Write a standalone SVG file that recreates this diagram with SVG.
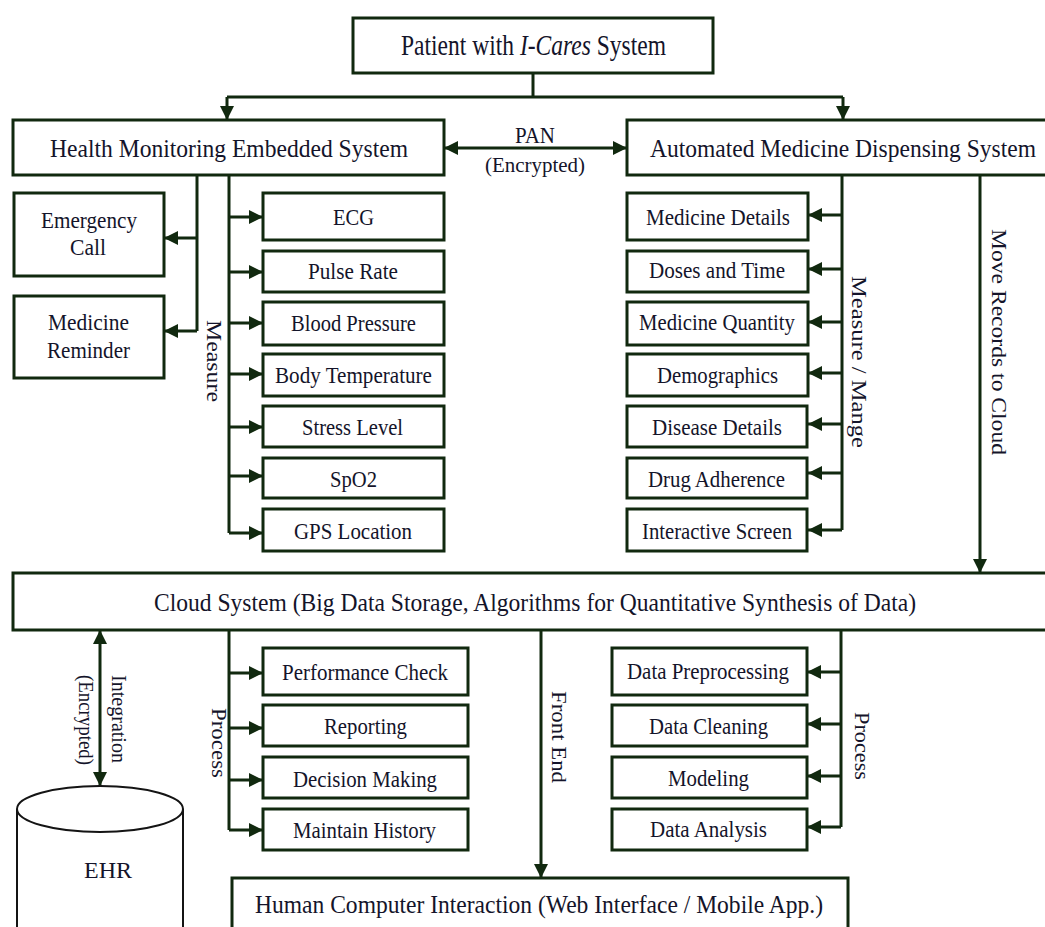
<svg xmlns="http://www.w3.org/2000/svg" width="1045" height="927" viewBox="0 0 1045 927">
<defs>
<style>
.b{fill:#fff;stroke:#11290f;stroke-width:3}
.c{fill:none;stroke:#11290f;stroke-width:3}
.t{font-family:"Liberation Serif","Times New Roman",serif;fill:#14142a;font-size:23px}
.L{font-size:26px}
.T{font-size:29px}
.M{font-size:25px}
.s{font-size:22px}
</style>
<marker id="a" markerUnits="userSpaceOnUse" markerWidth="14" markerHeight="14" refX="14" refY="7" orient="auto-start-reverse" viewBox="0 0 14 14">
<path d="M0,0 L14,7 L0,14 z" fill="#11290f"/>
</marker>
</defs>
<rect width="1045" height="927" fill="#fff"/>

<g id="connectors">
<path class="c" d="M533,73 V97"/>
<path class="c" d="M227,97 H843"/>
<path class="c" d="M227,97 V120" marker-end="url(#a)"/>
<path class="c" d="M843,97 V120" marker-end="url(#a)"/>
<path class="c" d="M444,148 H627" marker-start="url(#a)" marker-end="url(#a)"/>
<path class="c" d="M197,175 V331"/>
<path class="c" d="M197,238 H164" marker-end="url(#a)"/>
<path class="c" d="M197,331 H164" marker-end="url(#a)"/>
<path class="c" d="M229,175 V533"/>
<path class="c" d="M229,217 H263" marker-end="url(#a)"/>
<path class="c" d="M229,272 H263" marker-end="url(#a)"/>
<path class="c" d="M229,323 H263" marker-end="url(#a)"/>
<path class="c" d="M229,374 H263" marker-end="url(#a)"/>
<path class="c" d="M229,427 H263" marker-end="url(#a)"/>
<path class="c" d="M229,476 H263" marker-end="url(#a)"/>
<path class="c" d="M229,533 H263" marker-end="url(#a)"/>
<path class="c" d="M842,175 V530"/>
<path class="c" d="M842,215 H808" marker-end="url(#a)"/>
<path class="c" d="M842,269 H808" marker-end="url(#a)"/>
<path class="c" d="M842,322 H808" marker-end="url(#a)"/>
<path class="c" d="M842,373 H808" marker-end="url(#a)"/>
<path class="c" d="M842,424 H808" marker-end="url(#a)"/>
<path class="c" d="M842,473 H808" marker-end="url(#a)"/>
<path class="c" d="M842,530 H808" marker-end="url(#a)"/>
<path class="c" d="M980,175 V573" marker-end="url(#a)"/>
<path class="c" d="M100,630 V786" marker-start="url(#a)" marker-end="url(#a)"/>
<path class="c" d="M229,630 V830"/>
<path class="c" d="M229,673 H263" marker-end="url(#a)"/>
<path class="c" d="M229,728 H263" marker-end="url(#a)"/>
<path class="c" d="M229,780 H263" marker-end="url(#a)"/>
<path class="c" d="M229,830 H263" marker-end="url(#a)"/>
<path class="c" d="M541,630 V878" marker-end="url(#a)"/>
<path class="c" d="M841,630 V827"/>
<path class="c" d="M841,672 H807" marker-end="url(#a)"/>
<path class="c" d="M841,724 H807" marker-end="url(#a)"/>
<path class="c" d="M841,776 H807" marker-end="url(#a)"/>
<path class="c" d="M841,827 H807" marker-end="url(#a)"/>
<text class="t" x="515" y="143" textLength="40" lengthAdjust="spacingAndGlyphs">PAN</text>
<text class="t s" x="485" y="172" textLength="100" lengthAdjust="spacingAndGlyphs">(Encrypted)</text>
<text class="t s" transform="translate(207,361) rotate(90)" x="-41" y="0" textLength="82" lengthAdjust="spacingAndGlyphs">Measure</text>
<text class="t s" transform="translate(852,362) rotate(90)" x="-86" y="0" textLength="172" lengthAdjust="spacingAndGlyphs">Measure / Mange</text>
<text class="t s" transform="translate(992,342) rotate(90)" x="-113" y="0" textLength="226" lengthAdjust="spacingAndGlyphs">Move Records to Cloud</text>
<text class="t s" transform="translate(112,719) rotate(90)" x="-44" y="0" textLength="88" lengthAdjust="spacingAndGlyphs">Integration</text>
<text class="t s" transform="translate(79,720) rotate(90)" x="-45" y="0" textLength="90" lengthAdjust="spacingAndGlyphs">(Encrypted)</text>
<text class="t s" transform="translate(212,743) rotate(90)" x="-35" y="0" textLength="70" lengthAdjust="spacingAndGlyphs">Process</text>
<text class="t s" transform="translate(552,737) rotate(90)" x="-46" y="0" textLength="92" lengthAdjust="spacingAndGlyphs">Front End</text>
<text class="t s" transform="translate(855,746) rotate(90)" x="-34" y="0" textLength="68" lengthAdjust="spacingAndGlyphs">Process</text>
</g>

<g id="patient">
<rect class="b" x="353" y="18" width="360" height="55"/>
<text class="t T" x="401" y="55" textLength="265" lengthAdjust="spacingAndGlyphs">Patient with <tspan font-style="italic">I-Cares</tspan> System</text>
</g>

<g id="hmes">
<rect class="b" x="13" y="120" width="431" height="55"/>
<text class="t L" x="50" y="157" textLength="358" lengthAdjust="spacingAndGlyphs">Health Monitoring Embedded System</text>
</g>
<g id="amds">
<rect class="b" x="627" y="120" width="421" height="55"/>
<text class="t L" x="650" y="157" textLength="386" lengthAdjust="spacingAndGlyphs">Automated Medicine Dispensing System</text>
</g>

<g id="emergency">
<rect class="b" x="14" y="193" width="150" height="83"/>
<text class="t" x="41" y="228" textLength="96" lengthAdjust="spacingAndGlyphs">Emergency</text>
<text class="t" x="70" y="255" textLength="36" lengthAdjust="spacingAndGlyphs">Call</text>
</g>
<g id="reminder">
<rect class="b" x="14" y="296" width="150" height="82"/>
<text class="t" x="48" y="330" textLength="81" lengthAdjust="spacingAndGlyphs">Medicine</text>
<text class="t" x="47" y="358" textLength="83" lengthAdjust="spacingAndGlyphs">Reminder</text>
</g>

<g id="ecg"><rect class="b" x="263" y="193" width="181" height="47"/><text class="t" x="333" y="225" textLength="41" lengthAdjust="spacingAndGlyphs">ECG</text></g>
<g id="pulse"><rect class="b" x="263" y="251" width="181" height="41"/><text class="t" x="308" y="279" textLength="90" lengthAdjust="spacingAndGlyphs">Pulse Rate</text></g>
<g id="bp"><rect class="b" x="263" y="302" width="181" height="43"/><text class="t" x="291" y="331" textLength="125" lengthAdjust="spacingAndGlyphs">Blood Pressure</text></g>
<g id="temp"><rect class="b" x="263" y="354" width="181" height="42"/><text class="t" x="275" y="383" textLength="157" lengthAdjust="spacingAndGlyphs">Body Temperature</text></g>
<g id="stress"><rect class="b" x="263" y="406" width="181" height="41"/><text class="t" x="302" y="435" textLength="101" lengthAdjust="spacingAndGlyphs">Stress Level</text></g>
<g id="spo2"><rect class="b" x="263" y="458" width="181" height="40"/><text class="t" x="330" y="487" textLength="47" lengthAdjust="spacingAndGlyphs">SpO2</text></g>
<g id="gps"><rect class="b" x="263" y="509" width="181" height="42"/><text class="t" x="294" y="539" textLength="118" lengthAdjust="spacingAndGlyphs">GPS Location</text></g>

<g id="meddetails"><rect class="b" x="627" y="193" width="181" height="47"/><text class="t" x="646" y="225" textLength="144" lengthAdjust="spacingAndGlyphs">Medicine Details</text></g>
<g id="doses"><rect class="b" x="627" y="251" width="181" height="41"/><text class="t" x="649" y="278" textLength="136" lengthAdjust="spacingAndGlyphs">Doses and Time</text></g>
<g id="quantity"><rect class="b" x="627" y="302" width="181" height="43"/><text class="t" x="639" y="330" textLength="156" lengthAdjust="spacingAndGlyphs">Medicine Quantity</text></g>
<g id="demo"><rect class="b" x="627" y="354" width="181" height="42"/><text class="t" x="657" y="383" textLength="121" lengthAdjust="spacingAndGlyphs">Demographics</text></g>
<g id="disease"><rect class="b" x="627" y="406" width="180" height="41"/><text class="t" x="652" y="435" textLength="130" lengthAdjust="spacingAndGlyphs">Disease Details</text></g>
<g id="drug"><rect class="b" x="627" y="458" width="180" height="40"/><text class="t" x="648" y="487" textLength="137" lengthAdjust="spacingAndGlyphs">Drug Adherence</text></g>
<g id="screen"><rect class="b" x="627" y="509" width="180" height="42"/><text class="t" x="642" y="539" textLength="150" lengthAdjust="spacingAndGlyphs">Interactive Screen</text></g>

<g id="cloud">
<rect class="b" x="13" y="573" width="1035" height="57"/>
<text class="t M" x="154" y="611" textLength="762" lengthAdjust="spacingAndGlyphs">Cloud System (Big Data Storage, Algorithms for Quantitative Synthesis of Data)</text>
</g>

<g id="ehr">
<path d="M17,809 V940 M183,809 V940" fill="none" stroke="#141414" stroke-width="2"/>
<ellipse cx="100" cy="809" rx="83" ry="23" fill="#fff" stroke="#141414" stroke-width="2"/>
<text class="t" font-size="24" x="84" y="878" textLength="48" lengthAdjust="spacingAndGlyphs">EHR</text>
</g>

<g id="perf"><rect class="b" x="263" y="648" width="205" height="47"/><text class="t" x="282" y="680" textLength="166" lengthAdjust="spacingAndGlyphs">Performance Check</text></g>
<g id="reporting"><rect class="b" x="263" y="705" width="205" height="41"/><text class="t" x="324" y="734" textLength="83" lengthAdjust="spacingAndGlyphs">Reporting</text></g>
<g id="decision"><rect class="b" x="263" y="757" width="205" height="41"/><text class="t" x="293" y="787" textLength="144" lengthAdjust="spacingAndGlyphs">Decision Making</text></g>
<g id="history"><rect class="b" x="263" y="809" width="205" height="41"/><text class="t" x="293" y="838" textLength="143" lengthAdjust="spacingAndGlyphs">Maintain History</text></g>

<g id="prep"><rect class="b" x="612" y="648" width="195" height="47"/><text class="t" x="627" y="679" textLength="162" lengthAdjust="spacingAndGlyphs">Data Preprocessing</text></g>
<g id="cleaning"><rect class="b" x="612" y="705" width="195" height="41"/><text class="t" x="649" y="734" textLength="119" lengthAdjust="spacingAndGlyphs">Data Cleaning</text></g>
<g id="modeling"><rect class="b" x="612" y="757" width="195" height="41"/><text class="t" x="668" y="786" textLength="81" lengthAdjust="spacingAndGlyphs">Modeling</text></g>
<g id="analysis"><rect class="b" x="612" y="809" width="195" height="41"/><text class="t" x="650" y="837" textLength="117" lengthAdjust="spacingAndGlyphs">Data Analysis</text></g>

<g id="hci">
<rect class="b" x="232" y="878" width="616" height="60"/>
<text class="t M" x="255" y="913" textLength="568" lengthAdjust="spacingAndGlyphs">Human Computer Interaction (Web Interface / Mobile App.)</text>
</g>
</svg>
